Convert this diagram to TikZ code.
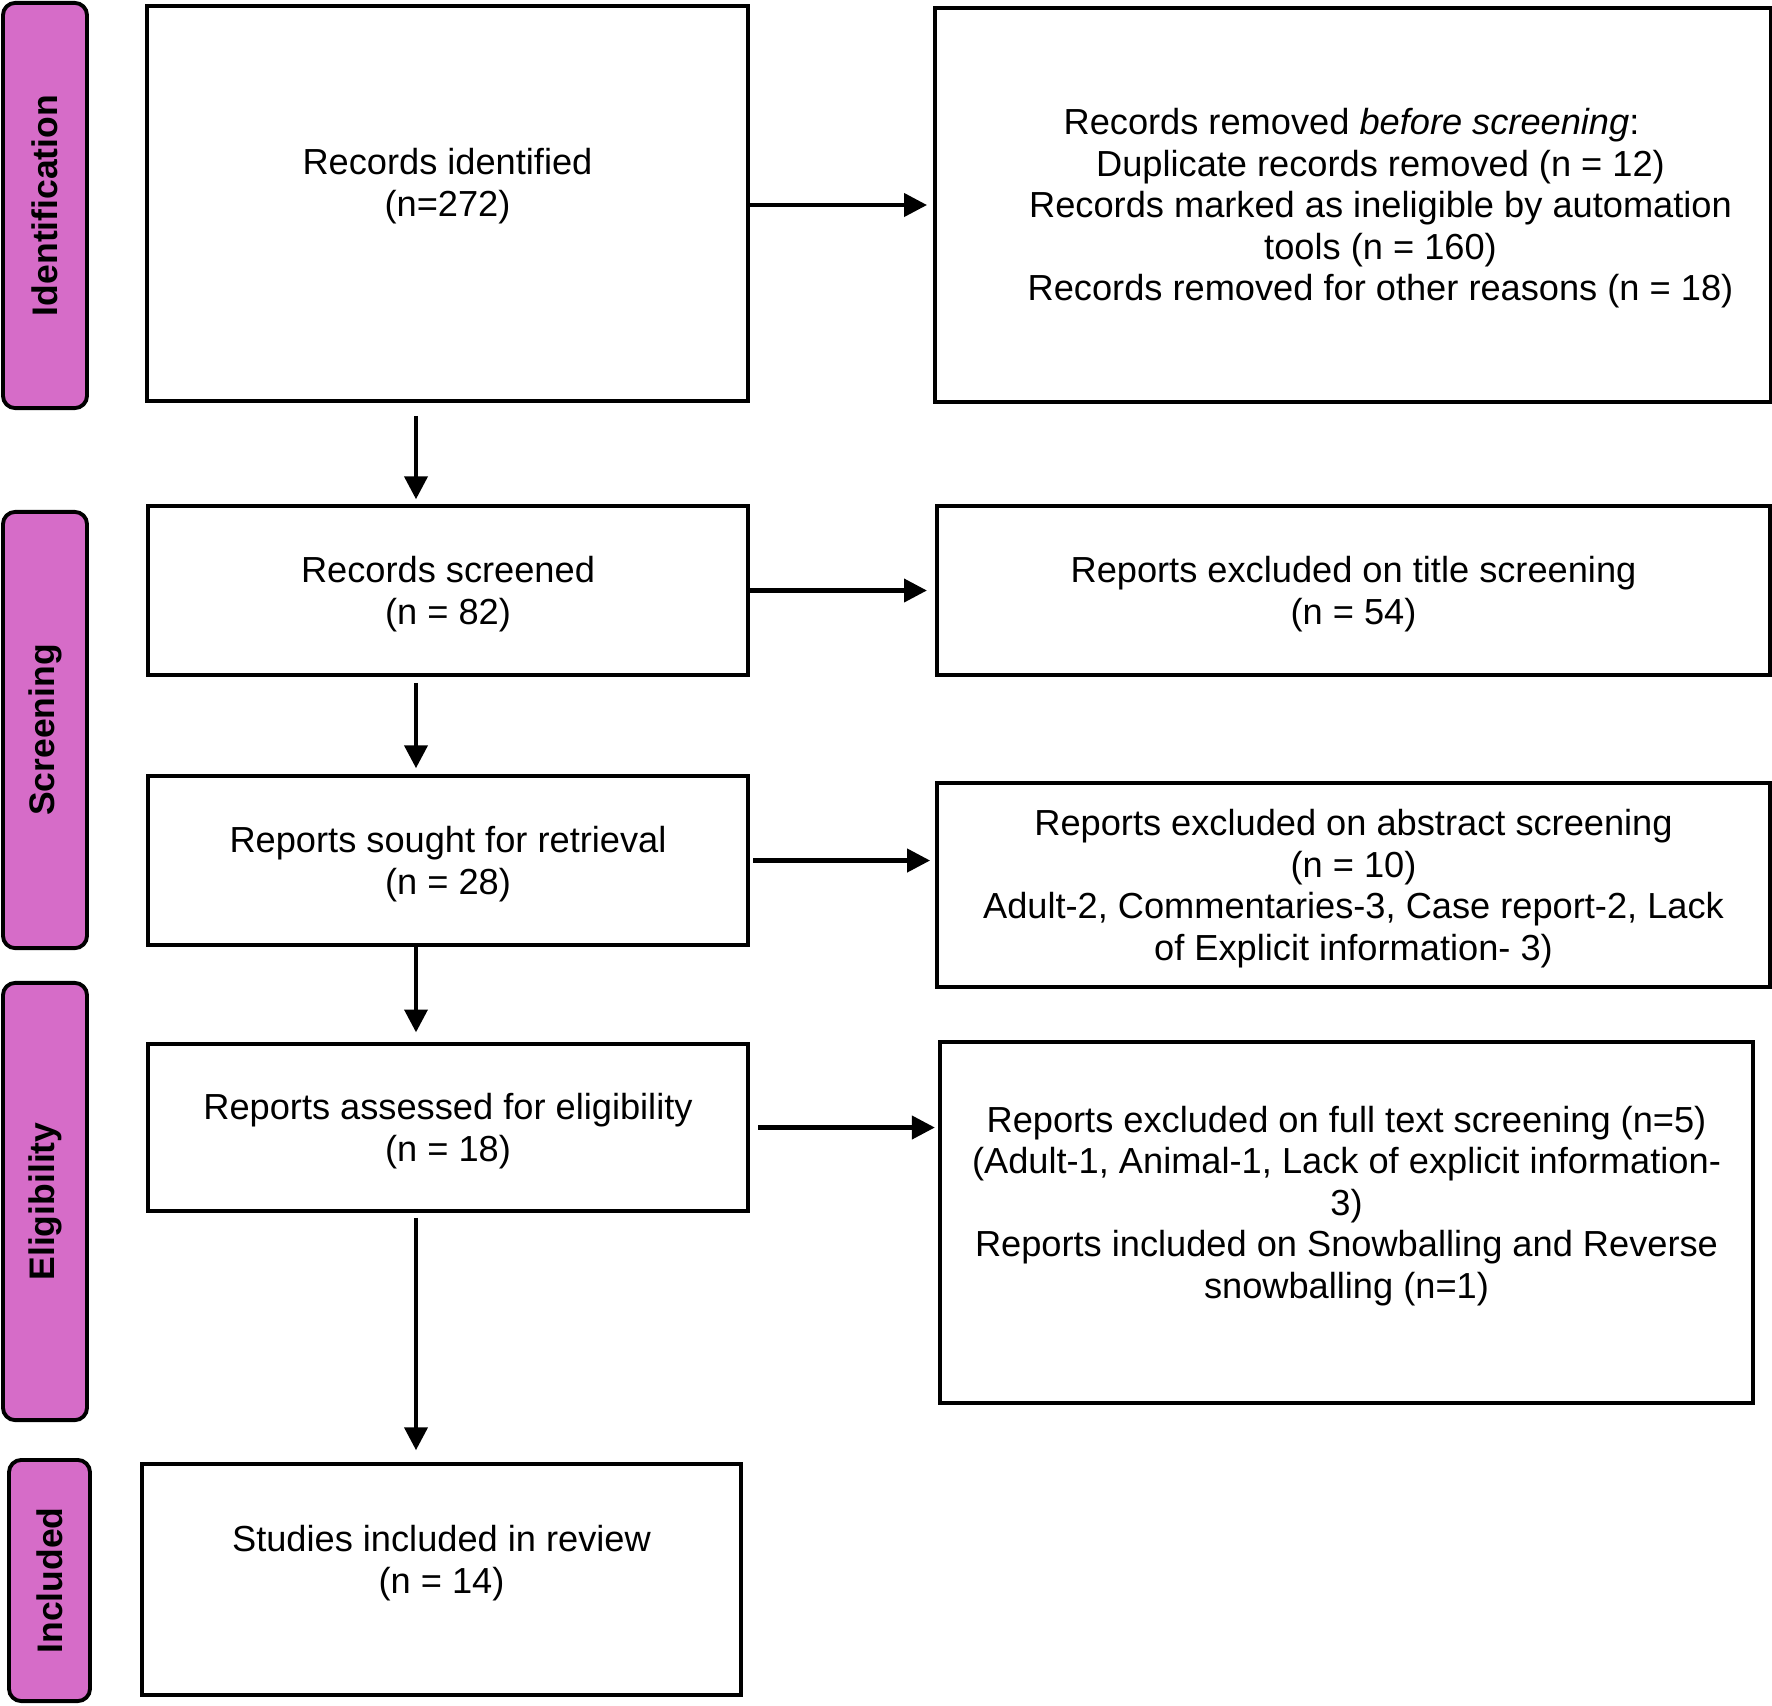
\documentclass[tikz,border=0pt]{standalone}
\usepackage{fontspec}
\setmainfont{Liberation Sans}
\usetikzlibrary{arrows.meta}
\usetikzlibrary{positioning}
\definecolor{phasepink}{HTML}{D66CC8}

\begin{document}
\begin{tikzpicture}[x=0.01cm, y=-0.01cm,
    every node/.style={align=center, font=\fontsize{10.3}{11.8}\selectfont},
    stage/.style={draw, line width=1pt, inner sep=0pt},
    stagetext/.style={yshift=-1pt},
    phase/.style={draw, line width=1.1pt, fill=phasepink, rounded corners=3.5pt, rotate=90,
        inner sep=0pt, font=\fontsize{10.1}{12}\selectfont\bfseries},
    flow/.style={-{Triangle[length=6.5pt,width=6.5pt]}, line width=1.2pt}]
    \useasboundingbox (0,0) rectangle (1772,1705);

    % Phase bars
    \node[phase, minimum width=4.05cm, minimum height=0.84cm] (ident) at (45,205.5) {Identification};
    \node[phase, minimum width=4.36cm, minimum height=0.84cm] (screen) at (45,730) {Screening};
    \node[phase, minimum width=4.37cm, minimum height=0.84cm] (elig) at (45,1201.5) {Eligibility};
    \node[phase, minimum width=2.41cm, minimum height=0.81cm] (incl) at (49.5,1580.5) {Included};

    % Identification
    \node[stage, minimum width=6.01cm, minimum height=3.95cm] (identified) at (447.5,203.5) {};
    \node[stagetext] (identifiedtext) at ([yshift=0.21cm]identified.center) {Records identified\\(n=272)};
    \node[stage, minimum width=8.35cm, minimum height=3.94cm] (removed) at (1352.5,205) {};
    \node[stagetext] (removedtext) at ([xshift=0.28cm]removed.center) {Records removed \emph{before screening}:\hspace*{0.58cm}\\
        Duplicate records removed (n = 12)\\
        Records marked as ineligible by automation\\
        tools (n = 160)\\
        Records removed for other reasons (n = 18)};

    % Screening
    \node[stage, minimum width=6cm, minimum height=1.69cm] (screened) at (448,590.5) {};
    \node[stagetext] (screenedtext) at (screened.center) {Records screened\\(n = 82)};
    \node[stage, minimum width=8.33cm, minimum height=1.69cm] (titleexcl) at (1353.5,590.5) {};
    \node[stagetext] (titleexcltext) at (titleexcl.center) {Reports excluded on title screening\\(n = 54)};
    \node[stage, minimum width=6cm, minimum height=1.69cm] (sought) at (448,860.5) {};
    \node[stagetext] (soughttext) at (sought.center) {Reports sought for retrieval\\(n = 28)};
    \node[stage, minimum width=8.33cm, minimum height=2.04cm] (abstractexcl) at (1353.5,885) {};
    \node[stagetext] (abstractexcltext) at (abstractexcl.center) {Reports excluded on abstract screening\\
        (n = 10)\\
        Adult-2, Commentaries-3, Case report-2, Lack\\
        of Explicit information- 3)};

    % Eligibility
    \node[stage, minimum width=6cm, minimum height=1.67cm] (assessed) at (448,1127.5) {};
    \node[stagetext] (assessedtext) at (assessed.center) {Reports assessed for eligibility\\(n = 18)};
    \node[stage, minimum width=8.13cm, minimum height=3.61cm] (fulltextexcl) at (1346.5,1222.5) {};
    \node[stagetext] (fulltexttext) at ([yshift=0.2cm]fulltextexcl.center) {Reports excluded on full text screening (n=5)\\
        (Adult-1, Animal-1, Lack of explicit information-\\
        3)\\
        Reports included on Snowballing and Reverse\\
        snowballing (n=1)};

    % Included
    \node[stage, minimum width=5.99cm, minimum height=2.31cm] (included) at (441.5,1579.5) {};
    \node[stagetext] (includedtext) at ([yshift=0.2cm]included.center) {Studies included in review\\(n = 14)};

    % Arrows down
    \coordinate (spine) at (416,0);
    \draw[flow, shorten <=3.7pt, shorten >=1.4pt] (identified.south -| spine) -- (screened.north -| spine);
    \draw[flow, shorten <=1.7pt, shorten >=1.7pt] (screened.south -| spine) -- (sought.north -| spine);
    \draw[flow, shorten >=2.8pt] (sought.south -| spine) -- (assessed.north -| spine);
    \draw[flow, shorten <=1.4pt, shorten >=3.4pt] (assessed.south -| spine) -- (included.north -| spine);

    % Arrows across
    \draw[flow, shorten >=1.7pt] (identified.east |- removed.west) -- (removed.west);
    \draw[flow, shorten >=2.3pt] (screened.east) -- (titleexcl.west);
    \draw[flow, shorten <=0.9pt, shorten >=1.4pt] (sought.east) -- (sought.east -| abstractexcl.west);
    \draw[flow, shorten <=2.3pt, shorten >=0.9pt] (assessed.east) -- (assessed.east -| fulltextexcl.west);
\end{tikzpicture}
\end{document}
